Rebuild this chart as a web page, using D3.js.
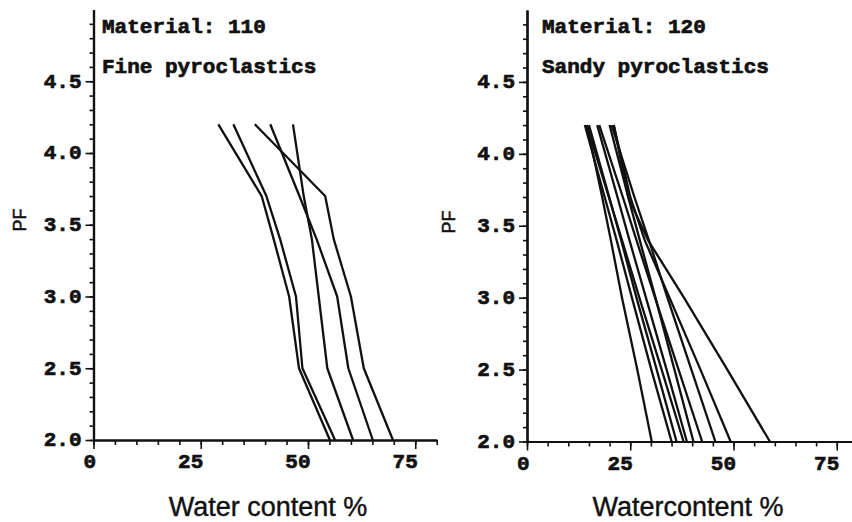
<!DOCTYPE html>
<html><head><meta charset="utf-8">
<script src="https://cdn.jsdelivr.net/npm/d3@7"></script>
<style>body{margin:0;background:#fff} svg{display:block}</style>
</head><body><svg id="c" width="852" height="522"></svg>
<script>
// ---- data ----
const pfLevels = [4.2, 3.7, 3.4, 3.0, 2.5, 2.0];
const xTicks = [0, 25, 50, 75];
const yTicks = [2.0, 2.5, 3.0, 3.5, 4.0, 4.5];
const leftTitles = ["Material: 110", "Fine pyroclastics"];
const rightTitles = ["Material: 120", "Sandy pyroclastics"];
const leftXLabel = "Water content %";
const rightXLabel = "Watercontent %";
const yLabel = "PF";
// water content (%) at each pF level, fine pyroclastics
const fine1 = [29.1, 39.2, 42.0, 45.6, 47.9, 55.1];
const fine2 = [32.6, 40.3, 43.5, 47.2, 48.7, 56.3];
const fine3 = [37.6, 54.0, 56.0, 60.0, 63.0, 69.8];
const fine4 = [41.2, 48.0, 52.0, 56.8, 59.4, 65.1];
const fine5 = [46.5, 49.0, 50.9, 52.5, 54.5, 60.5];
// sandy pyroclastics
const sandy1 = [14.5, 18.2, 20.3, 23.0, 26.7, 30.2];
const sandy2 = [14.0, 18.8, 21.7, 25.4, 30.1, 35.0];
const sandy3 = [15.0, 19.9, 22.8, 26.5, 31.4, 36.2];
const sandy4 = [14.5, 19.8, 23.0, 27.2, 32.6, 37.9];
const sandy5 = [17.0, 21.9, 24.8, 28.8, 33.8, 38.7];
const sandy6 = [20.0, 24.5, 27.3, 31.1, 35.7, 40.3];
const sandy7 = [17.5, 23.2, 26.5, 31.0, 36.7, 42.4];
const sandy8 = [20.5, 26.0, 29.5, 34.0, 39.8, 45.6];
const sandy9 = [21.0, 25.0, 28.5, 34.5, 42.0, 49.3];
const sandy10 = [21.0, 24.5, 29.3, 38.0, 48.5, 58.8];
const fineSeries = [fine1, fine2, fine3, fine4, fine5];
const sandySeries = [sandy1, sandy2, sandy3, sandy4, sandy5, sandy6, sandy7, sandy8, sandy9, sandy10];

// ---- drawing ----
const svg = d3.select("#c");
const monoFont = "'Liberation Mono', 'Courier New', monospace";
const sansFont = "'Liberation Sans', Arial, sans-serif";
const ink = "#111";

function monoStyle(sel) {
  sel.attr("font-family", monoFont).attr("font-weight", "bold").attr("font-size", 21)
    .attr("fill", ink).attr("stroke", ink).attr("stroke-width", 0.7);
}

function drawPanel(cfg, series, titles, xLabel) {
  const g = svg.append("g");
  const x = d3.scaleLinear().domain([0, 80]).range([cfg.x0, cfg.x1]);
  const y = d3.scaleLinear().domain([2, 5]).range([cfg.y0, cfg.y1]);
  const line = d3.line().x(d => x(d[0])).y(d => y(d[1]));

  series.forEach(s => {
    g.append("path")
      .attr("d", line(s.map((v, i) => [v, pfLevels[i]])))
      .attr("fill", "none").attr("stroke", ink)
      .attr("stroke-width", 2.3).attr("stroke-linejoin", "round");
  });

  const yMinor = g.append("g").attr("transform", `translate(${cfg.x0},0)`)
    .call(d3.axisLeft(y).tickValues(d3.range(20, 50, 1).map(v => v / 10)).tickSize(4).tickSizeOuter(0).tickFormat(""));
  const yMajor = g.append("g").attr("transform", `translate(${cfg.x0},0)`)
    .call(d3.axisLeft(y).tickValues(yTicks).tickSize(8).tickSizeOuter(0).tickPadding(4).tickFormat(d3.format(".1f")));
  const xMinor = g.append("g").attr("transform", `translate(0,${cfg.y0})`)
    .call(d3.axisBottom(x).tickValues(d3.range(0, 81, 5)).tickSize(5).tickSizeOuter(0).tickFormat(""));
  const xMajor = g.append("g").attr("transform", `translate(0,${cfg.y0})`)
    .call(d3.axisBottom(x).tickValues(xTicks).tickSize(9).tickSizeOuter(0).tickFormat(d3.format("d")));

  [yMinor, yMajor, xMinor, xMajor].forEach(a => {
    a.selectAll("path.domain").attr("stroke", ink).attr("stroke-width", 2.2);
    a.selectAll(".tick line").attr("stroke", ink).attr("stroke-width", 1.6);
  });
  yMajor.selectAll("text").call(monoStyle).attr("dy", "0.28em");
  xMajor.selectAll("text").call(monoStyle).attr("text-anchor", "end")
    .attr("x", 2).attr("dy", null).attr("y", 28);

  g.selectAll("text.title").data(titles).join("text")
    .attr("x", cfg.titleX).attr("y", (d, i) => 33 + i * 40)
    .call(monoStyle).text(d => d);

  g.append("text").attr("x", cfg.xLabelX).attr("y", 516).attr("text-anchor", "middle")
    .attr("font-family", sansFont).attr("font-size", 27).attr("fill", ink)
    .attr("stroke", ink).attr("stroke-width", 0.4).text(xLabel);
  g.append("text").attr("transform", `translate(${cfg.yLabelX},${cfg.yLabelY}) rotate(-90)`)
    .attr("text-anchor", "middle").attr("font-family", sansFont).attr("font-size", 18)
    .attr("fill", ink).attr("stroke", ink).attr("stroke-width", 0.5).text(yLabel);
}

drawPanel({x0: 93.5, x1: 436.7, y0: 440, y1: 9.5, titleX: 102, xLabelX: 268, yLabelX: 26, yLabelY: 220},
  fineSeries, leftTitles, leftXLabel);
drawPanel({x0: 527, x1: 857.4, y0: 441.5, y1: 10, titleX: 542, xLabelX: 688, yLabelX: 455, yLabelY: 222},
  sandySeries, rightTitles, rightXLabel);
</script></body></html>
